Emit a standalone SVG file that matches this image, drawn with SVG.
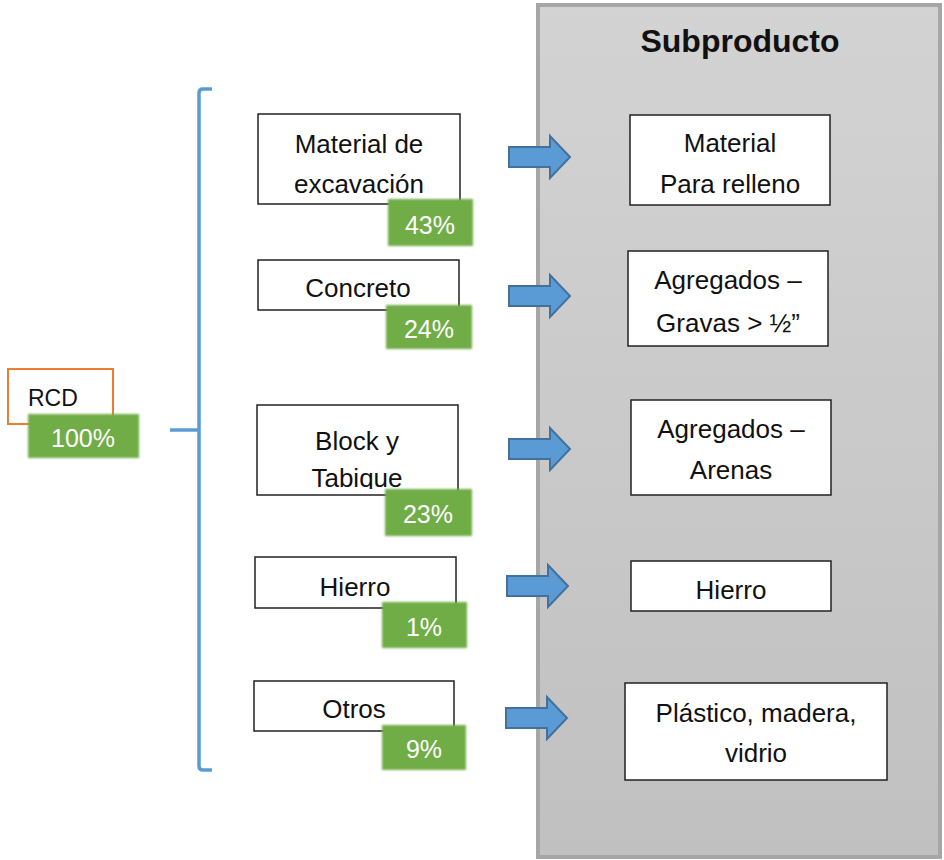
<svg xmlns="http://www.w3.org/2000/svg" width="944" height="860" viewBox="0 0 944 860">
<defs>
<linearGradient id="panelGrad" x1="0" y1="0" x2="0" y2="1">
<stop offset="0" stop-color="#d3d3d3"/>
<stop offset="1" stop-color="#c0c0c0"/>
</linearGradient>
<filter id="soft" x="-10%" y="-10%" width="120%" height="120%">
<feGaussianBlur stdDeviation="0.9"/>
</filter>
<clipPath id="clipBlock"><rect x="257" y="405" width="201" height="84"/></clipPath>
<path id="arrowShape" d="M0,-10 H41 V-21 L61,0 L41,21 V10 H0 Z"/>
<style>
.txt{font-family:"Liberation Sans",Arial,sans-serif;font-size:26px;fill:#111;text-anchor:middle}
.pct{font-family:"Liberation Sans",Arial,sans-serif;font-size:25px;fill:#fff;text-anchor:middle}
.box{fill:#fff;stroke:#222;stroke-width:1.5}
.green{fill:#70ad47;filter:url(#soft)}
.arrow{fill:#5b9bd5;stroke:#41719c;stroke-width:2}
.brace{fill:none;stroke:#5b9bd5;stroke-width:3.5}
</style>
</defs>
<rect width="944" height="860" fill="#fff"/>

<g id="panel">
<rect x="538" y="5" width="402" height="852" fill="url(#panelGrad)" stroke="#a6a6a6" stroke-width="4"/>
<text x="740" y="52" font-family="Liberation Sans,Arial,sans-serif" font-size="32" font-weight="bold" fill="#111" text-anchor="middle">Subproducto</text>
</g>

<g id="rcd">
<rect x="8" y="369" width="105" height="55" fill="#fff" stroke="#ed7d31" stroke-width="2"/>
<text x="28" y="406" font-family="Liberation Sans,Arial,sans-serif" font-size="23" fill="#111">RCD</text>
<rect class="green" x="28" y="414" width="111" height="44"/>
<text class="pct" x="83" y="447">100%</text>
</g>

<g id="connectors">
<path class="brace" d="M212,89 H203 Q199,89 199,93 V766 Q199,770 203,770 H212"/>
<path class="brace" d="M170,430 H199"/>
<use href="#arrowShape" class="arrow" x="509" y="157"/>
<use href="#arrowShape" class="arrow" x="509" y="296"/>
<use href="#arrowShape" class="arrow" x="509" y="449"/>
<use href="#arrowShape" class="arrow" x="507" y="586"/>
<use href="#arrowShape" class="arrow" x="506" y="718"/>
</g>

<g id="excavacion">
<rect class="box" x="258" y="114" width="202" height="90"/>
<text class="txt" x="359" y="153">Material de</text>
<text class="txt" x="359" y="193">excavación</text>
<rect class="green" x="388" y="199" width="85" height="47"/>
<text class="pct" x="430" y="234">43%</text>
</g>

<g id="concreto">
<rect class="box" x="258" y="260" width="201" height="50"/>
<text class="txt" x="358" y="297">Concreto</text>
<rect class="green" x="386" y="305" width="86" height="44"/>
<text class="pct" x="429" y="338">24%</text>
</g>

<g id="block">
<rect class="box" x="257" y="405" width="201" height="90"/>
<text class="txt" x="357" y="450">Block y</text>
<text class="txt" x="357" y="487" clip-path="url(#clipBlock)">Tabique</text>
<rect class="green" x="385" y="489" width="87" height="47"/>
<text class="pct" x="428" y="523">23%</text>
</g>

<g id="hierro">
<rect class="box" x="255" y="557" width="201" height="51"/>
<text class="txt" x="355" y="596">Hierro</text>
<rect class="green" x="382" y="602" width="85" height="46"/>
<text class="pct" x="424" y="636">1%</text>
</g>

<g id="otros">
<rect class="box" x="254" y="681" width="200" height="50"/>
<text class="txt" x="354" y="718">Otros</text>
<rect class="green" x="382" y="725" width="84" height="45"/>
<text class="pct" x="424" y="758">9%</text>
</g>

<g id="relleno">
<rect class="box" x="630" y="115" width="200" height="90"/>
<text class="txt" x="730" y="152">Material</text>
<text class="txt" x="730" y="193">Para relleno</text>
</g>

<g id="gravas">
<rect class="box" x="628" y="251" width="200" height="95"/>
<text class="txt" x="728" y="289">Agregados –</text>
<text class="txt" x="728" y="332">Gravas &gt; ½”</text>
</g>

<g id="arenas">
<rect class="box" x="631" y="400" width="200" height="95"/>
<text class="txt" x="731" y="438">Agregados –</text>
<text class="txt" x="731" y="479">Arenas</text>
</g>

<g id="hierro2">
<rect class="box" x="631" y="561" width="200" height="50"/>
<text class="txt" x="731" y="599">Hierro</text>
</g>

<g id="otros2">
<rect class="box" x="625" y="683" width="262" height="97"/>
<text class="txt" x="756" y="722">Plástico, madera,</text>
<text class="txt" x="756" y="762">vidrio</text>
</g>
</svg>
